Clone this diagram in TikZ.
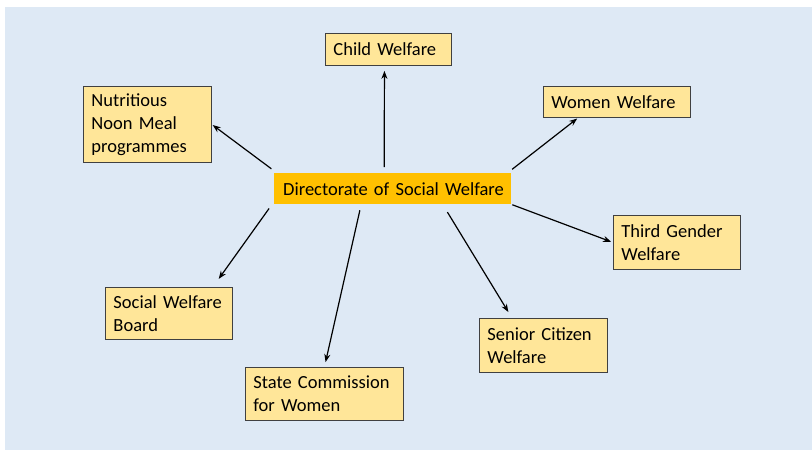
\documentclass[tikz,border=0pt]{standalone}
\usepackage{fontspec}
\setmainfont{Carlito}
\usetikzlibrary{arrows.meta,positioning}
\definecolor{slideblue}{RGB}{222,233,245}
\definecolor{boxyellow}{RGB}{255,230,153}
\definecolor{boxline}{RGB}{64,64,64}
\definecolor{hubgold}{RGB}{255,192,0}
\newcommand{\boxfont}{\fontsize{18.5}{23}\selectfont\spaceskip=2.5pt\relax}

\begin{document}
\begin{tikzpicture}[x=1pt, y=-1pt,
    box/.style={draw=boxline, fill=boxyellow, line width=0.9pt, anchor=north west,
                align=left, inner xsep=8pt, inner ysep=0pt, font=\boxfont},
    hub/.style={fill=hubgold, anchor=north west, inner xsep=9pt, inner ysep=0pt,
                text width=219pt, minimum height=31pt, align=left, font=\boxfont},
    link/.style={draw=black, line width=1.2pt, -{Stealth[length=8pt,width=6pt]}}]
    \useasboundingbox (0,0) rectangle (812,450);
    \fill[slideblue] (5,7) rectangle (812,450);

    % centre and the seven branches
    \node[hub] (dir) at (274,173) {\mbox{Directorate of Social Welfare}};
    \node[box, text width=110pt, minimum height=32pt] (child) at (325,33) {Child Welfare};
    \node[box, text width=131pt, minimum height=31pt] (women) at (543,86) {Women Welfare};
    \node[box, text width=112pt, minimum height=76pt] (nutri) at (83,86)
         {Nutritious\\Noon Meal\\programmes};
    \node[box, text width=111pt, minimum height=54pt] (third) at (613,215)
         {Third Gender\\Welfare};
    \node[box, text width=111pt, minimum height=52pt] (social) at (105,287)
         {Social Welfare\\Board};
    \node[box, text width=142pt, minimum height=53pt] (state) at (245,367)
         {State Commission\\for Women};
    \node[box, text width=112pt, minimum height=54pt] (senior) at (479,318)
         {Senior Citizen\\Welfare};

    % arrows out of the centre
    \draw[link, shorten <=6pt, shorten >=5pt] ([xshift=-8.5pt]dir.north) -- ([xshift=-4pt]child.south);
    \draw[link, shorten <=6pt, shorten >=1pt] ([xshift=-4pt]dir.north east) -- ([xshift=35pt]women.south west);
    \draw[link, shorten <=7pt, shorten >=1pt] ([xshift=3pt]dir.north west) -- (nutri.east);
    \draw[link, shorten <=1pt, shorten >=2pt] (dir.south east) -- (third.west);
    \draw[link, shorten <=9pt, shorten >=7pt] ([xshift=50pt]dir.south) -- ([xshift=33pt]senior.north west);
    \draw[link, shorten <=6pt, shorten >=5pt] ([xshift=-31.5pt]dir.south) -- (state.north);
    \draw[link, shorten <=5pt, shorten >=10pt] ([xshift=-2pt]dir.south west) -- ([xshift=-20pt]social.north east);
\end{tikzpicture}
\end{document}
